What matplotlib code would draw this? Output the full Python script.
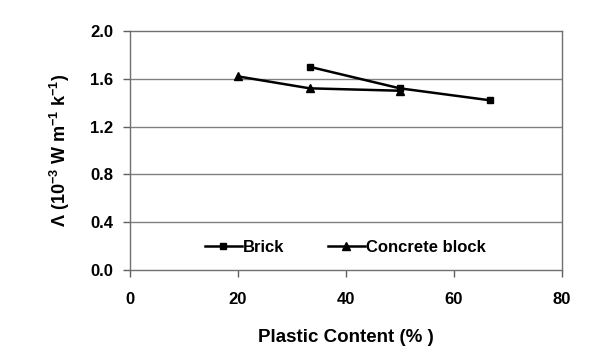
import matplotlib
matplotlib.use("Agg")
import matplotlib.pyplot as plt

# data
brick_x = [33.3, 50.0, 66.7]
brick_y = [1.70, 1.52, 1.42]
block_x = [20.0, 33.3, 50.0]
block_y = [1.62, 1.52, 1.50]

x_ticks = [0, 20, 40, 60, 80]
y_ticks = [0.0, 0.4, 0.8, 1.2, 1.6, 2.0]

plt.rcParams["font.family"] = ["Liberation Sans", "DejaVu Sans"]
plt.rcParams["font.weight"] = "bold"
plt.rcParams["mathtext.fontset"] = "custom"
plt.rcParams["mathtext.rm"] = "Liberation Sans:bold"
plt.rcParams["mathtext.it"] = "Liberation Sans:bold"
plt.rcParams["mathtext.bf"] = "Liberation Sans:bold"
plt.rcParams["mathtext.default"] = "rm"

fig = plt.figure(figsize=(6.06, 3.52), dpi=100)
ax = fig.add_axes([0.2145, 0.233, 0.7125, 0.679])

grey = "#808080"
for yv in y_ticks[1:-1]:
    ax.axhline(yv, color=grey, linewidth=1.0, zorder=0)

ax.plot(brick_x, brick_y, color="black", linewidth=1.8, marker="s",
        markersize=5, label="Brick", zorder=3)
ax.plot(block_x, block_y, color="black", linewidth=1.8, marker="^",
        markersize=5.5, label="Concrete block", zorder=3)

ax.set_xlim(0, 80)
ax.set_ylim(0, 2.0)
ax.set_xticks(x_ticks)
ax.set_yticks(y_ticks)
ax.set_xticklabels([str(v) for v in x_ticks], fontsize=12, fontweight="bold")
ax.set_yticklabels([f"{v:.1f}" for v in y_ticks], fontsize=12, fontweight="bold")
ax.tick_params(direction="out", length=5, width=1, color="#606060")
ax.tick_params(axis="x", pad=11)
ax.tick_params(axis="y", pad=7)

for s in ax.spines.values():
    s.set_color("#707070")
    s.set_linewidth(1.0)

ax.set_xlabel("Plastic Content (% )", fontsize=13.5, fontweight="bold", labelpad=16)
ax.set_ylabel(r"$\Lambda$ (10$^{-3}$ W m$^{-1}$ k$^{-1}$)", fontsize=13,
              fontweight="bold", labelpad=13)

ax.legend(loc="center left", bbox_to_anchor=(0.139, 0.096), ncol=2,
          frameon=False, handlelength=2.2, handletextpad=0.1,
          columnspacing=2.6, prop={"weight": "bold", "size": 12})

fig.savefig("out.png", dpi=100)
